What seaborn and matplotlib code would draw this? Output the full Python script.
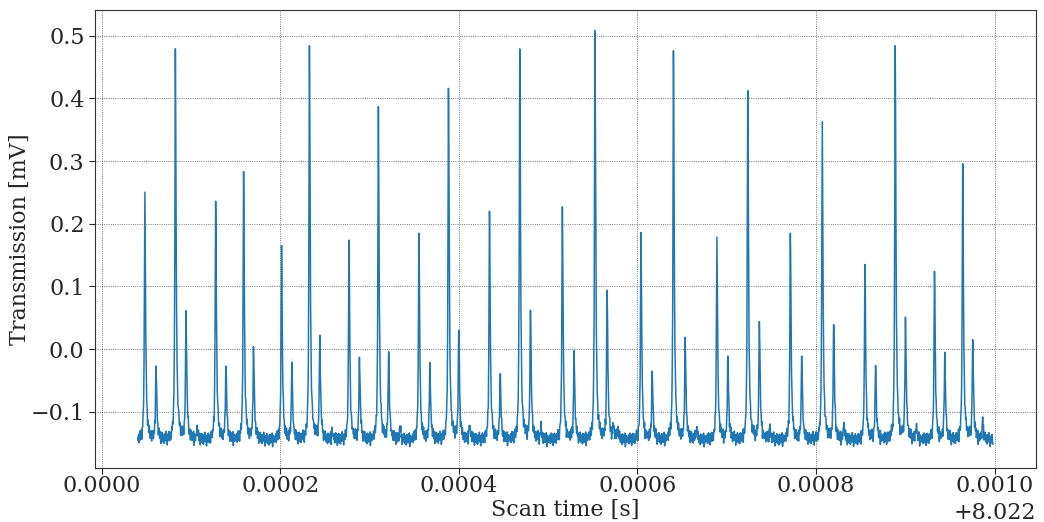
import numpy as np
import pandas as pd
import seaborn as sns
import matplotlib.pyplot as plt

t0 = 8.022
t_start = 4.05e-5
t_end = 9.98e-4
baseline = -0.145

# peak positions [s after t0] and heights [mV]
peak_t = [4.84e-5, 6.09e-5, 8.26e-5, 9.45e-5, 1.277e-4, 1.392e-4, 1.590e-4, 1.701e-4,
          2.015e-4, 2.130e-4, 2.327e-4, 2.443e-4, 2.770e-4, 2.887e-4, 3.099e-4, 3.214e-4,
          3.553e-4, 3.675e-4, 3.884e-4, 3.999e-4, 4.343e-4, 4.463e-4, 4.682e-4, 4.802e-4,
          5.159e-4, 5.290e-4, 5.524e-4, 5.660e-4, 6.039e-4, 6.165e-4, 6.403e-4, 6.534e-4,
          6.889e-4, 7.012e-4, 7.235e-4, 7.365e-4, 7.712e-4, 7.839e-4, 8.069e-4, 8.197e-4,
          8.547e-4, 8.666e-4, 8.886e-4, 9.001e-4, 9.326e-4, 9.441e-4, 9.642e-4, 9.754e-4,
          9.865e-4]
peak_h = [0.248, -0.027, 0.479, 0.061, 0.236, -0.027, 0.283, 0.002,
          0.162, -0.027, 0.484, 0.019, 0.170, -0.013, 0.387, -0.004,
          0.185, -0.024, 0.416, 0.030, 0.220, -0.043, 0.479, 0.062,
          0.227, -0.008, 0.508, 0.095, 0.186, -0.035, 0.476, 0.019,
          0.178, -0.011, 0.407, 0.047, 0.185, -0.011, 0.362, 0.039,
          0.135, -0.026, 0.484, 0.051, 0.124, -0.005, 0.296, 0.015,
          -0.114]

# small satellite bumps after some of the peak groups
bump_t = [1.07e-4, 2.58e-4, 3.34e-4, 4.12e-4, 4.92e-4, 5.73e-4, 5.78e-4, 6.66e-4,
          7.48e-4, 8.31e-4, 9.12e-4]
bump_h = [-0.130, -0.132, -0.124, -0.120, -0.126, -0.124, -0.128, -0.127,
          -0.126, -0.120, -0.124]

# hand-read baseline wiggle [mV], repeated along the trace
wiggle = [0.002, -0.004, 0.006, -0.008, 0.003, 0.009, -0.006, -0.002, 0.007, -0.011,
          0.004, -0.003, 0.008, -0.007, 0.001, 0.005, -0.009, 0.006, -0.001, -0.005,
          0.010, -0.004, 0.002, -0.012, 0.005, 0.003, -0.006, 0.008, -0.003, -0.008,
          0.004, 0.001, -0.010, 0.007, -0.002, 0.006, -0.007, 0.003, -0.004, 0.009,
          -0.013, 0.002, 0.005, -0.006, 0.001]

t = np.union1d(np.arange(t_start, t_end, 5e-7), peak_t)
v = baseline + np.resize(wiggle, len(t))
w = 6e-7
for pt, ph in zip(peak_t + bump_t, peak_h + bump_h):
    amp = ph - baseline
    dt = t - pt
    # narrow lorentzian with a slightly longer tail after the peak
    width = np.where(dt > 0, 1.6 * w, w)
    v = v + amp / (1 + (dt / width) ** 2)
# peak tops sit exactly at the read heights
for pt, ph in zip(peak_t, peak_h):
    v[np.argmin(np.abs(t - pt))] = ph

df = pd.DataFrame({"time": t0 + t, "trans": v})

sns.set_style("white")
plt.rcParams["font.family"] = ["DejaVu Serif"]
fig, ax = plt.subplots(figsize=(10.44, 5.22), dpi=100)
sns.lineplot(data=df, x="time", y="trans", ax=ax, color="#1f77b4", lw=1.1)
ax.grid(True, color="k", ls=":", lw=0.6, alpha=0.7)
ax.set_xlabel("Scan time [s]", fontsize=16, labelpad=1)
ax.set_ylabel("Transmission [mV]", fontsize=16)
ax.yaxis.set_label_coords(-0.068, 0.5)
ax.tick_params(labelsize=16, length=4, left=True, bottom=True)
ax.tick_params(axis="x", pad=1.5)
ax.xaxis.get_offset_text().set_fontsize(16)
for s in ax.spines.values():
    s.set_color("#333333")
plt.subplots_adjust(left=0.091, right=0.992, top=0.981, bottom=0.104)
plt.savefig("out.png")
